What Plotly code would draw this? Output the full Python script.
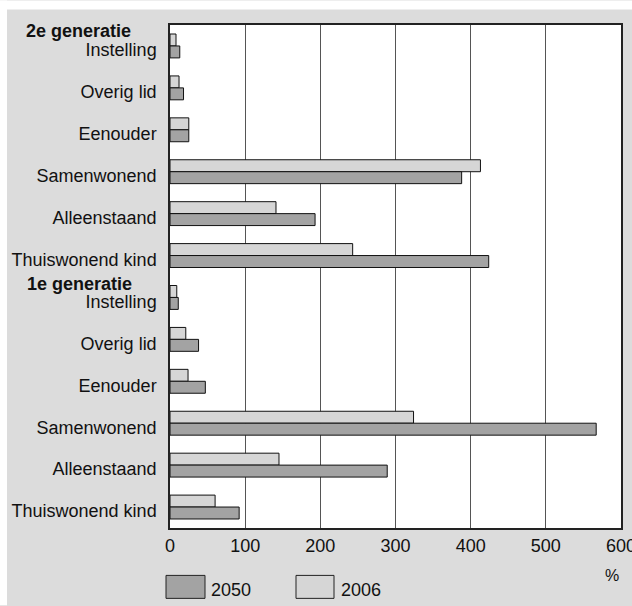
import plotly.graph_objects as go

# ---- data ----
categories = ["Instelling", "Overig lid", "Eenouder", "Samenwonend", "Alleenstaand", "Thuiswonend kind"]
groups = ["2e generatie", "1e generatie"]
values_2006_gen2 = [8, 12, 25, 413, 141, 243]
values_2050_gen2 = [13, 18, 25, 388, 193, 424]
values_2006_gen1 = [9, 21, 24, 324, 145, 60]
values_2050_gen1 = [11, 38, 47, 567, 289, 92]
x_ticks = [0, 100, 200, 300, 400, 500, 600]
series_names = ["2050", "2006"]

# ---- layout constants (page pixels) ----
W, H = 632, 606
PL, PR, PT, PB = 170, 621, 24.5, 528.5   # plot area in page pixels
FONT = "Liberation Sans, Arial, Helvetica, sans-serif"
FS = 18
C2050 = "#a3a3a3"
C2006 = "#d6d6d6"
BG = "#dcdcdc"

labels = categories + categories
ypos = list(range(len(labels)))
v2006 = values_2006_gen2 + values_2006_gen1
v2050 = values_2050_gen2 + values_2050_gen1

fig = go.Figure()
fig.add_trace(go.Bar(y=ypos, x=v2006, orientation="h", name=series_names[1],
                     marker=dict(color=C2006, line=dict(color="#111", width=1)),
                     showlegend=False))
fig.add_trace(go.Bar(y=ypos, x=v2050, orientation="h", name=series_names[0],
                     marker=dict(color=C2050, line=dict(color="#111", width=1)),
                     showlegend=False))

pw = PR - PL
ph = PB - PT
def px_x(p):
    return (p - PL) / pw
def px_y(p):
    return 1 - (p - PT) / ph

shapes = [
    # white strips outside the grey panel (top and left)
    dict(type="rect", xref="paper", yref="paper", x0=px_x(0), x1=px_x(W), y0=px_y(9), y1=px_y(0),
         fillcolor="white", line=dict(width=0), layer="below"),
    dict(type="rect", xref="paper", yref="paper", x0=px_x(0), x1=px_x(7), y0=px_y(H), y1=px_y(0),
         fillcolor="white", line=dict(width=0), layer="below"),
    # legend swatches
    dict(type="rect", xref="paper", yref="paper", x0=px_x(166), x1=px_x(205), y0=px_y(599), y1=px_y(576),
         fillcolor=C2050, line=dict(color="#222", width=1)),
    dict(type="rect", xref="paper", yref="paper", x0=px_x(296), x1=px_x(334), y0=px_y(599), y1=px_y(576),
         fillcolor=C2006, line=dict(color="#222", width=1)),
]

def txt(text, x, y, anchor="left", size=FS):
    return dict(text=text, xref="paper", yref="paper", x=px_x(x), y=px_y(y),
                xanchor=anchor, yanchor="middle", showarrow=False,
                font=dict(size=size, color="#111", family=FONT))

annotations = [
    txt("<b>" + groups[0] + "</b>", 24, 31),
    txt("<b>" + groups[1] + "</b>", 25, 284),
    txt(series_names[0], 209, 591),
    txt(series_names[1], 339, 591),
    txt("%", 612, 576, anchor="center", size=16),
]

fig.update_layout(
    width=W, height=H,
    margin=dict(l=PL, r=W - PR, t=PT, b=H - PB, pad=0, autoexpand=False),
    paper_bgcolor=BG, plot_bgcolor="white",
    barmode="group", bargap=0.43, bargroupgap=0,
    font=dict(family=FONT, size=FS, color="#111"),
    shapes=shapes, annotations=annotations,
    showlegend=False,
)
fig.update_xaxes(range=[0, 600], tickvals=x_ticks, ticktext=[str(v) for v in x_ticks],
                 showgrid=True, gridcolor="#555", gridwidth=1, automargin=False,
                 showline=True, linecolor="#222", linewidth=1.5, mirror=True,
                 ticks="", zeroline=False, ticklabelstandoff=1, ticklabeloverflow="allow",
                 tickfont=dict(size=FS, family=FONT, color="#111"))
fig.update_yaxes(range=[len(labels) - 0.5, -0.5], tickvals=ypos, ticktext=labels,
                 showgrid=False, showline=True, linecolor="#222", linewidth=1.5, mirror=True,
                 ticks="", zeroline=False, ticklabelstandoff=8, ticklabelshift=-4, automargin=False,
                 tickfont=dict(size=FS, family=FONT, color="#111"))

fig.write_html("out.html", config={"displayModeBar": False},
               post_script="document.body.style.margin='0';document.body.style.overflow='hidden';")
